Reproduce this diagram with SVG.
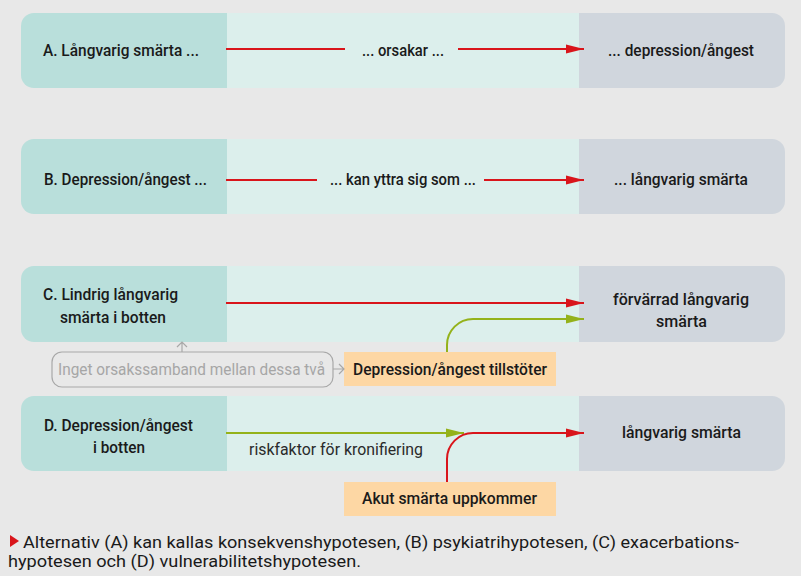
<svg xmlns="http://www.w3.org/2000/svg" width="801" height="576" viewBox="0 0 801 576">
<defs>
<style>
.bg{fill:#e8e8e8}
.l{fill:#b9dfdb}
.m{fill:#dcefec}
.r{fill:#d0d6dd}
.t{font-family:Roboto,"Liberation Sans",sans-serif;font-size:16.5px;font-weight:500;fill:#1a1a1a}
.g{font-family:Roboto,"Liberation Sans",sans-serif;font-size:16.5px;fill:#a6a6a6}
.cap{font-family:Roboto,"Liberation Sans",sans-serif;font-size:17px;fill:#1a1a1a}
.red{stroke:#d9151b;stroke-width:2;fill:none}
.grn{stroke:#94b21a;stroke-width:2;fill:none}
.gry{stroke:#a8a8a8;stroke-width:1.2;fill:none}
.or{fill:#fdd7a4}
</style>
<marker id="ar" markerUnits="userSpaceOnUse" markerWidth="18" markerHeight="10" refX="18" refY="5" orient="auto"><path d="M0,0.5 L18,5 L0,9.5 Z" fill="#d9151b"/></marker>
<marker id="ag" markerUnits="userSpaceOnUse" markerWidth="18" markerHeight="10" refX="18" refY="5" orient="auto"><path d="M0,0.5 L18,5 L0,9.5 Z" fill="#94b21a"/></marker>
</defs>
<rect class="bg" x="0" y="0" width="801" height="576"/>

<g id="rowA">
<rect class="m" x="227" y="13" width="352" height="75"/>
<path class="l" d="M227,13 H34 A13,13 0 0 0 21,26 V75 A13,13 0 0 0 34,88 H227 Z"/>
<path class="r" d="M579,13 H772 A13,13 0 0 1 785,26 V75 A13,13 0 0 1 772,88 H579 Z"/>
<text class="t" x="43" y="56" textLength="156" lengthAdjust="spacingAndGlyphs">A. Långvarig smärta ...</text>
<text class="t" x="362" y="56" textLength="82" lengthAdjust="spacingAndGlyphs">... orsakar ...</text>
<text class="t" x="608" y="56" textLength="146" lengthAdjust="spacingAndGlyphs">... depression/ångest</text>
</g>

<g id="rowB">
<rect class="m" x="227" y="139" width="352" height="75"/>
<path class="l" d="M227,139 H34 A13,13 0 0 0 21,152 V201 A13,13 0 0 0 34,214 H227 Z"/>
<path class="r" d="M579,139 H772 A13,13 0 0 1 785,152 V201 A13,13 0 0 1 772,214 H579 Z"/>
<text class="t" x="44" y="185" textLength="163" lengthAdjust="spacingAndGlyphs">B. Depression/ångest ...</text>
<text class="t" x="330" y="185" textLength="146" lengthAdjust="spacingAndGlyphs">... kan yttra sig som ...</text>
<text class="t" x="614" y="185" textLength="134" lengthAdjust="spacingAndGlyphs">... långvarig smärta</text>
</g>

<g id="rowC">
<rect class="m" x="227" y="266" width="352" height="76"/>
<path class="l" d="M227,266 H34 A13,13 0 0 0 21,279 V329 A13,13 0 0 0 34,342 H227 Z"/>
<path class="r" d="M579,266 H772 A13,13 0 0 1 785,279 V329 A13,13 0 0 1 772,342 H579 Z"/>
<text class="t" x="43" y="300" textLength="135" lengthAdjust="spacingAndGlyphs">C. Lindrig långvarig</text>
<text class="t" x="60" y="323" textLength="106" lengthAdjust="spacingAndGlyphs">smärta i botten</text>
<text class="t" x="613" y="305" textLength="136" lengthAdjust="spacingAndGlyphs">förvärrad långvarig</text>
<text class="t" x="656" y="327" textLength="51" lengthAdjust="spacingAndGlyphs">smärta</text>
</g>

<g id="noteC">
<rect class="gry" x="52" y="352" width="281" height="35" rx="10"/>
<text class="g" x="58" y="375" textLength="267" lengthAdjust="spacingAndGlyphs">Inget orsakssamband mellan dessa två</text>
</g>

<g id="triggerC">
<rect class="or" x="344" y="352" width="212" height="34"/>
<text class="t" x="353" y="375" textLength="194" lengthAdjust="spacingAndGlyphs">Depression/ångest tillstöter</text>
</g>

<g id="rowD">
<rect class="m" x="227" y="396" width="352" height="75"/>
<path class="l" d="M227,396 H34 A13,13 0 0 0 21,409 V458 A13,13 0 0 0 34,471 H227 Z"/>
<path class="r" d="M579,396 H772 A13,13 0 0 1 785,409 V458 A13,13 0 0 1 772,471 H579 Z"/>
<text class="t" x="44" y="431" textLength="149" lengthAdjust="spacingAndGlyphs">D. Depression/ångest</text>
<text class="t" x="93" y="453" textLength="52" lengthAdjust="spacingAndGlyphs">i botten</text>
<text class="t" x="249" y="455" textLength="174" lengthAdjust="spacingAndGlyphs" style="fill:#2a2a2a;font-weight:400">riskfaktor för kronifiering</text>
<text class="t" x="622" y="438" textLength="119" lengthAdjust="spacingAndGlyphs">långvarig smärta</text>
</g>

<g id="triggerD">
<rect class="or" x="344" y="482" width="212" height="34"/>
<text class="t" x="362" y="504" textLength="175" lengthAdjust="spacingAndGlyphs">Akut smärta uppkommer</text>
</g>

<g id="connectors">
<path class="red" d="M226,49 H345"/>
<path class="red" d="M458,49 H584" marker-end="url(#ar)"/>
<path class="red" d="M226,180 H317"/>
<path class="red" d="M484,180 H584" marker-end="url(#ar)"/>
<path class="red" d="M226,303 H584" marker-end="url(#ar)"/>
<path class="grn" d="M447,352 V345 A26,26 0 0 1 473,319 H584" marker-end="url(#ag)"/>
<path class="gry" d="M182,352 V342 M177,347 L182,342 L187,347"/>
<path class="gry" d="M333,369 H344 M339,364 L344,369 L339,374"/>
<path class="grn" d="M226,433 H464" marker-end="url(#ag)"/>
<path class="red" d="M447,482 V459 A26,26 0 0 1 473,433 H584" marker-end="url(#ar)"/>
</g>

<g id="caption">
<path d="M10,535 L19,541 L10,547 Z" fill="#d9151b"/>
<text class="cap" x="23" y="548" textLength="716" lengthAdjust="spacingAndGlyphs">Alternativ (A) kan kallas konsekvenshypotesen, (B) psykiatrihypotesen, (C) exacerbations-</text>
<text class="cap" x="8" y="567" textLength="353" lengthAdjust="spacingAndGlyphs">hypotesen och (D) vulnerabilitetshypotesen.</text>
</g>
</svg>
